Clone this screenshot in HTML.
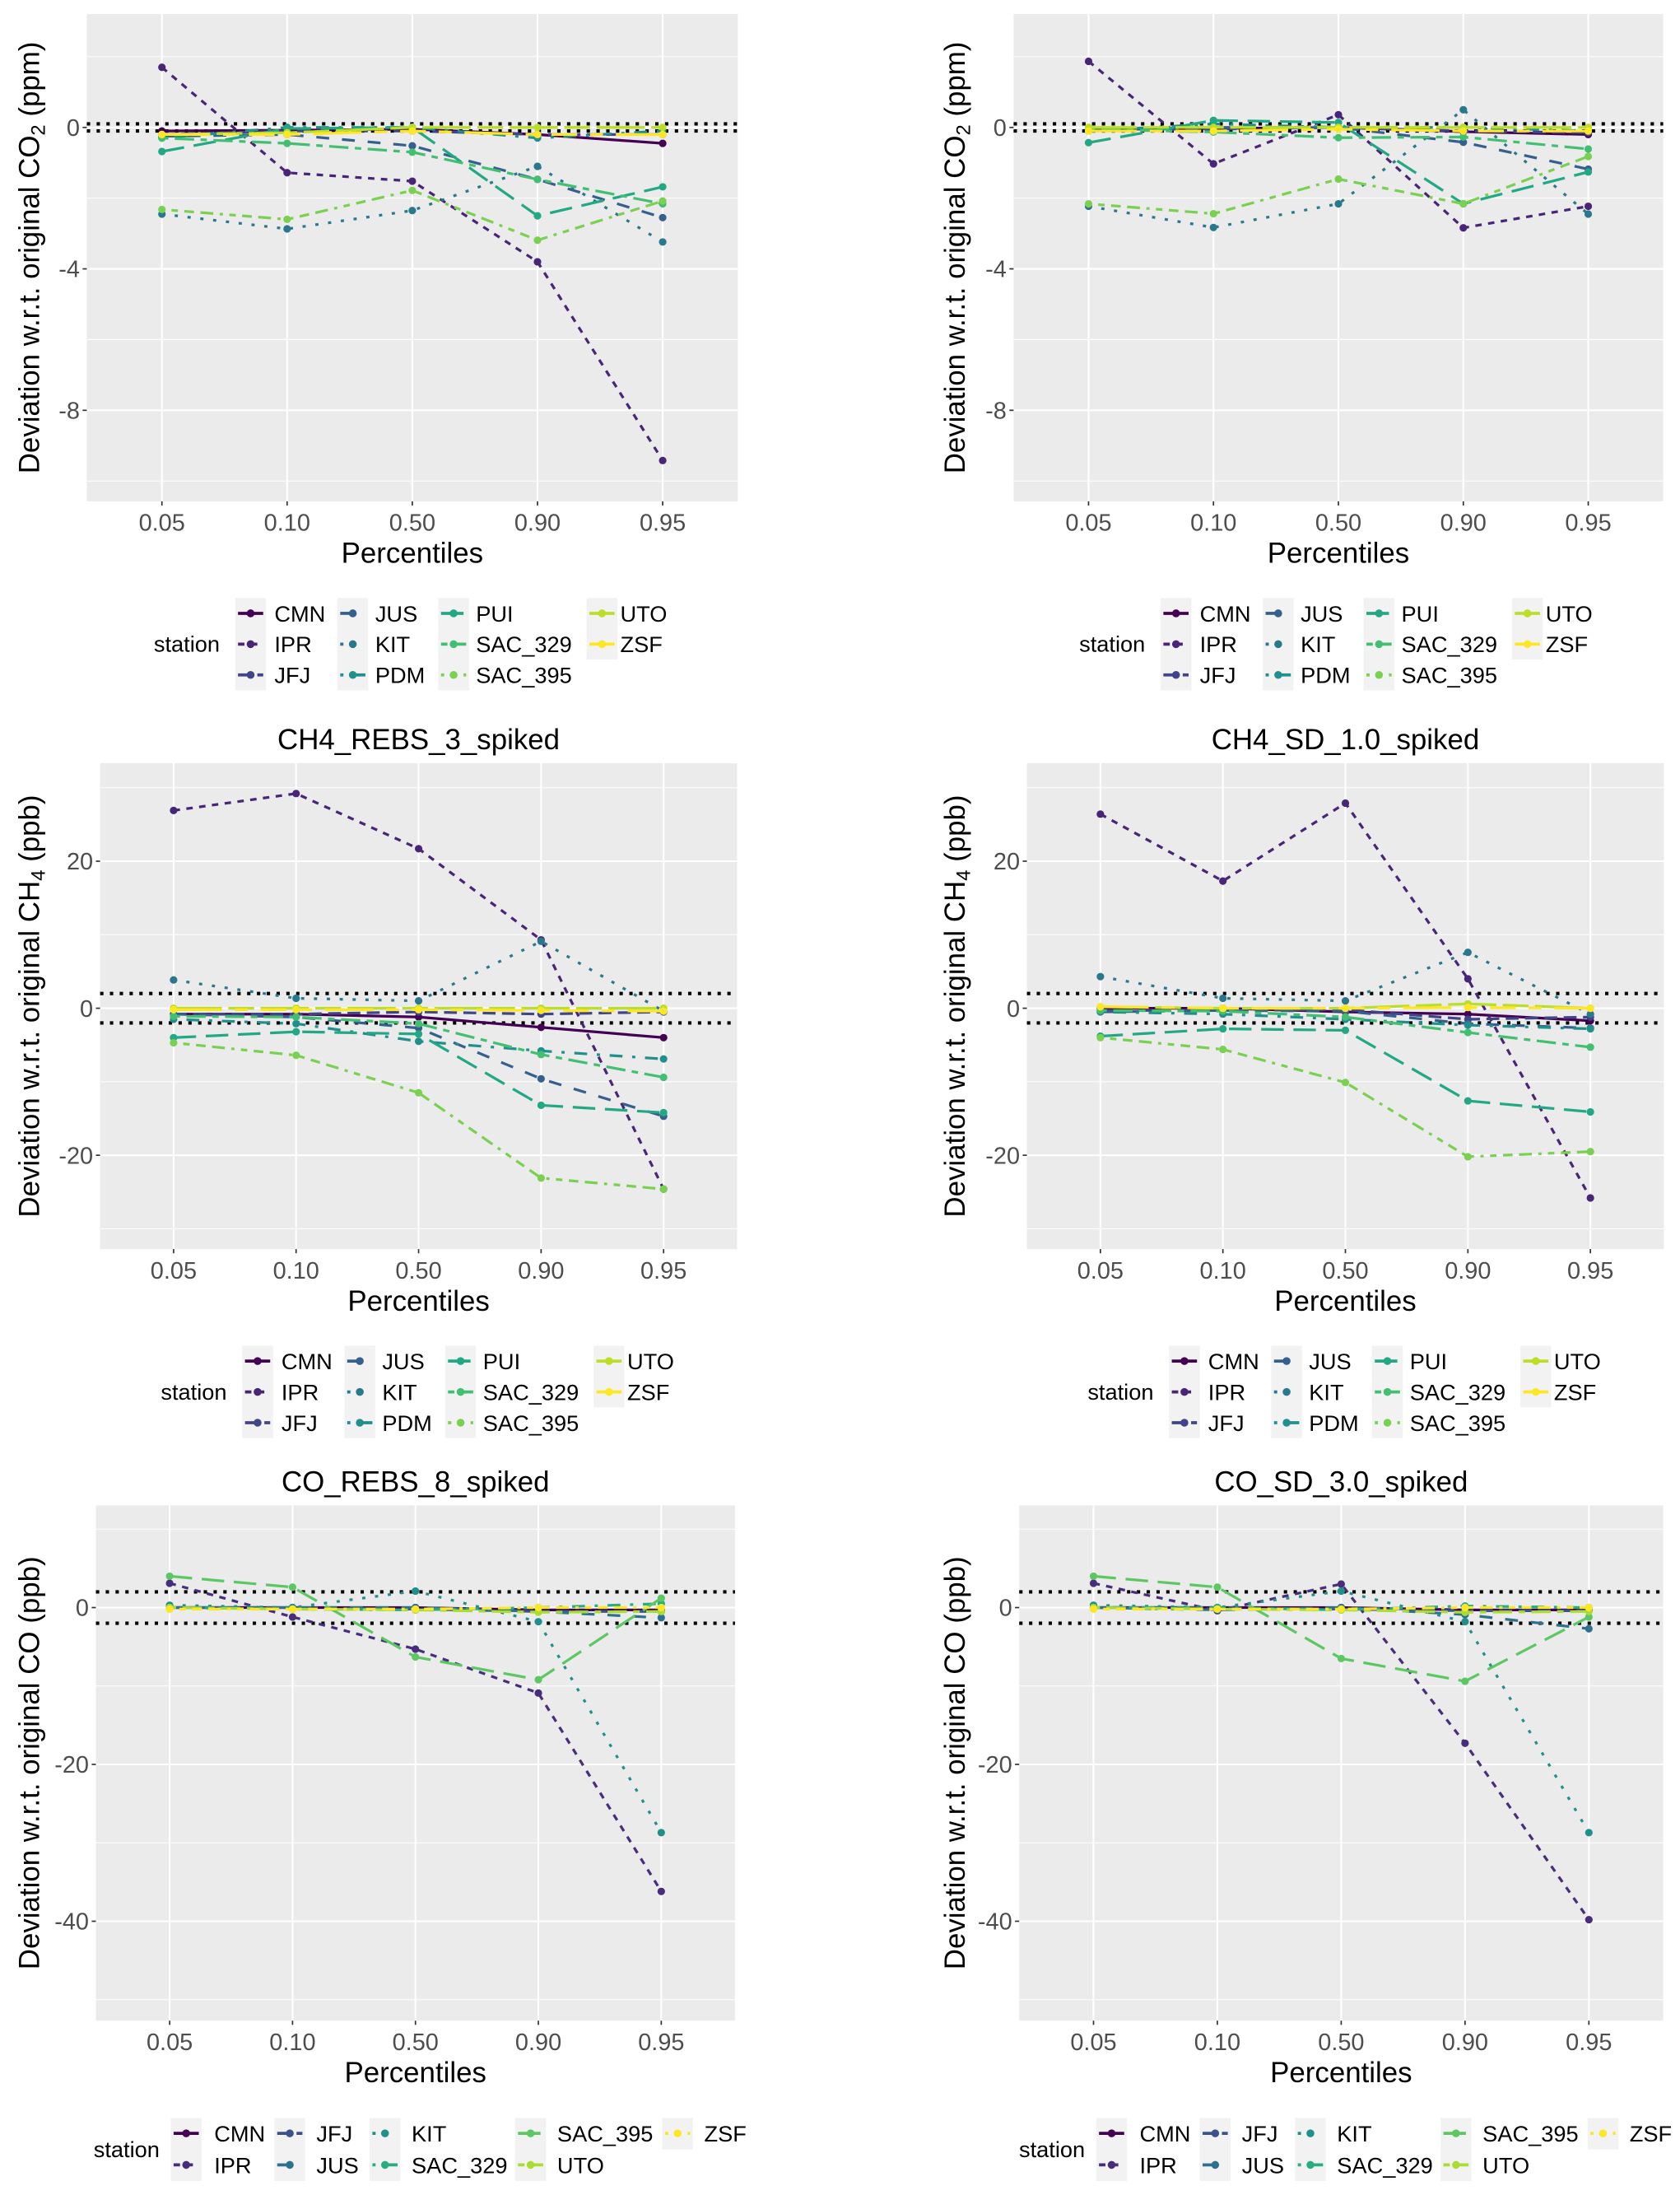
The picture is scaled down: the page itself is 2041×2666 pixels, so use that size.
<!DOCTYPE html>
<html><head><meta charset="utf-8"><style>
html,body{margin:0;padding:0;background:#fff;}
svg{display:block;font-family:"Liberation Sans",Arial,sans-serif;}
</style></head><body>
<svg id="fig" xmlns="http://www.w3.org/2000/svg" width="2041" height="2666" viewBox="0 0 1200 1567.5" preserveAspectRatio="none"></svg>
<script>
// ---- data ----
const categories = ["0.05","0.10","0.50","0.90","0.95"];
const stations11 = ["CMN","IPR","JFJ","JUS","KIT","PDM","PUI","SAC_329","SAC_395","UTO","ZSF"];
const colors11 = ["#440154","#482576","#414487","#35608D","#2A788E","#21908C","#22A884","#43BF71","#7AD151","#BBDF27","#FDE725"];
const stations9 = ["CMN","IPR","JFJ","JUS","KIT","SAC_329","SAC_395","UTO","ZSF"];
const colors9 = ["#440154","#472D7B","#3B528B","#2C728E","#21908C","#27AD81","#5DC863","#AADC32","#FDE725"];
const ltypes = ["", "22","42","44","13","1343","73","2262","12223242","F282","F4448444"];

// CO2 REBS (top-left)
const co2RebsValues = [
  [-0.1,-0.08,-0.05,-0.2,-0.45],
  [1.7,-1.28,-1.52,-3.8,-9.42],
  [-0.2,-0.1,-0.1,-0.2,-0.2],
  [-0.25,-0.2,-0.52,-1.47,-2.55],
  [-2.45,-2.87,-2.35,-1.1,-3.24],
  [-0.3,0,0,-0.3,-0.1],
  [-0.68,-0.03,0,-2.5,-1.68],
  [-0.3,-0.45,-0.7,-1.47,-2.16],
  [-2.32,-2.6,-1.78,-3.19,-2.08],
  [-0.2,-0.15,0,0,0],
  [-0.2,-0.2,-0.1,-0.2,-0.2]
];
// CO2 SD (top-right)
const co2SdValues = [
  [-0.05,-0.03,0,-0.12,-0.2],
  [1.87,-1.03,0.36,-2.84,-2.23],
  [-0.05,-0.05,0,-0.1,-0.15],
  [-0.05,0,0,-0.42,-1.18],
  [-2.23,-2.83,-2.16,0.5,-2.45],
  [-0.1,0.1,0,0,-0.1],
  [-0.43,0.2,0.14,-2.16,-1.26],
  [-0.05,-0.13,-0.29,-0.27,-0.61],
  [-2.16,-2.44,-1.46,-2.16,-0.82],
  [0,0,0,0,0],
  [-0.1,-0.1,-0.05,-0.1,-0.1]
];
// CH4 REBS
const ch4RebsValues = [
  [-0.8,-0.8,-1.2,-2.6,-4.0],
  [26.9,29.2,21.7,9.3,-24.6],
  [-0.8,-0.8,-0.5,-0.8,-0.5],
  [-0.8,-1.2,-2.7,-9.6,-14.7],
  [3.85,1.35,1.0,9.1,-0.4],
  [-1.5,-2.1,-4.5,-5.8,-6.9],
  [-4.0,-3.2,-3.5,-13.2,-14.2],
  [-1.1,-1.2,-2.1,-6.3,-9.4],
  [-4.7,-6.4,-11.5,-23.1,-24.6],
  [0,0,0,0,0],
  [-0.2,-0.2,-0.2,-0.3,-0.4]
];
// CH4 SD
const ch4SdValues = [
  [0,0,-0.5,-0.8,-1.7],
  [26.4,17.3,27.9,4.0,-25.8],
  [-0.3,-0.3,-0.2,-1.5,-1.2],
  [-0.5,-0.3,-0.4,-2.1,-2.7],
  [4.3,1.35,1.0,7.6,-0.8],
  [-0.5,-0.8,-1.5,-2.3,-2.8],
  [-3.8,-2.8,-3.0,-12.6,-14.1],
  [-0.3,-0.4,-1.2,-3.3,-5.3],
  [-4.0,-5.6,-10.1,-20.2,-19.5],
  [0.2,0,0,0.6,0],
  [0.2,0,0,0.1,0]
];
// CO REBS
const coRebsValues = [
  [0,0,0,-0.3,-0.3],
  [3.1,-1.2,-5.3,-10.9,-36.2],
  [0,0,-0.2,-0.5,-0.5],
  [0,0,0,-0.5,-1.3],
  [0.3,0,2.1,-1.8,-28.7],
  [0,-0.2,-0.3,0,0.5],
  [4.0,2.6,-6.3,-9.2,1.2],
  [0,-0.2,-0.3,-0.6,-0.5],
  [-0.2,-0.2,-0.2,0,0]
];
// CO SD
const coSdValues = [
  [0,0,0,-0.3,-0.3],
  [3.1,-0.4,3.0,-17.3,-39.8],
  [0,0,-0.2,-0.4,-0.4],
  [0,-0.3,0,-0.9,-2.7],
  [0.3,0,2.1,-1.8,-28.7],
  [0,0,-0.3,0.2,0],
  [4.0,2.6,-6.5,-9.4,-1.2],
  [0,-0.2,-0.3,-0.6,-0.5],
  [-0.2,-0.2,-0.2,0,0]
];
const co2Ticks = [0,-4,-8];
const co2Minor = [2,-2,-6,-10];
const ch4Ticks = [20,0,-20];
const ch4Minor = [30,10,-10,-30];
const coTicks = [0,-20,-40];
const coMinor = [10,-10,-30,-50];

// ---- drawing ----
const NS="http://www.w3.org/2000/svg";
const svg=document.getElementById('fig');
function mk(tag,attrs,parent,text){
  const e=document.createElementNS(NS,tag);
  for(const k in attrs) e.setAttribute(k,attrs[k]);
  if(text!==undefined) e.textContent=text;
  (parent||svg).appendChild(e);
  return e;
}
const U=2.3;
function dash(lt){
  if(!lt) return "none";
  return lt.split("").map(c=>parseInt(c,16)*U).join(",");
}

function panel(cfg){
  const g=mk('g',{});
  
  
  const L=cfg.left,R=cfg.right,T=cfg.top,B=cfg.bottom;
  const step=(R-L)/5.2;
  const xs=i=>L+(i+0.6)*step;
  const ys=v=>cfg.zeroY - v*cfg.pxPerUnit;
  const bg=mk('rect',{x:L,y:T,width:R-L,height:B-T,fill:'#EBEBEB'},g);
  
  
  cfg.minor.forEach(v=>{const y=ys(v); if(y>T&&y<B){const l=mk('line',{x1:L,x2:R,y1:y,y2:y,stroke:'#fff','stroke-width':0.6},g);
    }});
  cfg.ticks.forEach(v=>{const y=ys(v);const l=mk('line',{x1:L,x2:R,y1:y,y2:y,stroke:'#fff','stroke-width':1.2},g);
    
    const tk=mk('line',{x1:L-3,x2:L,y1:y,y2:y,stroke:'#333','stroke-width':1},g);
    
    const t=mk('text',{x:L-5,y:y+6,'text-anchor':'end','font-size':17,fill:'#4D4D4D'},g,String(v));
    });
  categories.forEach((c,i)=>{const x=xs(i);const l=mk('line',{x1:x,x2:x,y1:T,y2:B,stroke:'#fff','stroke-width':1.2},g);
    
    const tk=mk('line',{x1:x,x2:x,y1:B,y2:B+3,stroke:'#333','stroke-width':1},g);
    
    const t=mk('text',{x:x,y:B+21,'text-anchor':'middle','font-size':17,fill:'#4D4D4D'},g,c);
    });
  // threshold dotted lines
  [cfg.thr,-cfg.thr].forEach(v=>{const y=ys(v);const l=mk('line',{x1:L,x2:R,y1:y,y2:y,stroke:'#000','stroke-width':2.4,'stroke-dasharray':'2.4,4.6'},g);
    });
  // series
  cfg.values.forEach((vals,si)=>{
    const sg=mk('g',{},g);
    
    
    const pts=vals.map((v,i)=>xs(i).toFixed(2)+','+ys(v).toFixed(2)).join(' ');
    const pl=mk('polyline',{points:pts,fill:'none',stroke:cfg.colors[si],'stroke-width':1.9,'stroke-dasharray':dash(ltypes[si])},sg);
    
    
    vals.forEach((v,i)=>{const c=mk('circle',{cx:xs(i),cy:ys(v),r:2.7,fill:cfg.colors[si]},sg);
      
      });
  });
  // titles
  if(cfg.title){const t=mk('text',{x:(L+R)/2,y:T-10,'text-anchor':'middle','font-size':20.5,fill:'#000'},g,cfg.title);
    }
  const xt=mk('text',{x:(L+R)/2,y:B+44,'text-anchor':'middle','font-size':20.5,fill:'#000'},g,'Percentiles');
  
  const cy=(T+B)/2, tx=cfg.ytitleX;
  const yt=mk('text',{x:tx,y:cy,'text-anchor':'middle','font-size':20.5,fill:'#000',transform:`rotate(-90 ${tx} ${cy})`},g);
  
  mk('tspan',{},yt,'Deviation w.r.t. original '+cfg.gas);
  if(cfg.sub) mk('tspan',{'font-size':14,dy:4},yt,cfg.sub);
  mk('tspan',{dy:cfg.sub?-4:0},yt,' ('+cfg.unit+')');
  // legend
  const lg=mk('g',{},g);
  
  
  const st=mk('text',{x:cfg.leg.stationX,y:cfg.leg.stationY+5.5,'text-anchor':'end','font-size':16,fill:'#000'},lg,'station');
  
  const nrow=cfg.leg.rows, ncol=cfg.leg.keyX.length;
  for(let c=0;c<ncol;c++){
    let n=0;
    for(let r=0;r<nrow;r++){ if(c*nrow+r<cfg.stations.length) n++; }
    const kb=mk('rect',{x:cfg.leg.keyX[c]-11,y:cfg.leg.rowY[0]-11,width:22,height:n*cfg.leg.dy,fill:'#F2F2F2'},lg);
    
  }
  cfg.stations.forEach((s,si)=>{
    const c=Math.floor(si/nrow), r=si%nrow;
    const kx=cfg.leg.keyX[c], ky=cfg.leg.rowY[0]+r*cfg.leg.dy;
    const eg=mk('g',{},lg);
    
    
    mk('line',{x1:kx-9,x2:kx+9,y1:ky,y2:ky,stroke:cfg.colors[si],'stroke-width':2.2,'stroke-dasharray':dash(ltypes[si])},eg);
    mk('circle',{cx:kx,cy:ky,r:2.8,fill:cfg.colors[si]},eg);
    mk('text',{x:cfg.leg.textX[c],y:ky+5.8,'font-size':16,fill:'#000'},eg,s);
  });
}

const legTop=(off,rowY0)=>({stationX:157+off,stationY:rowY0+22,rows:3,dy:22,rowY:[rowY0],
  keyX:[179+off,252+off,324+off,430+off],textX:[196+off,268+off,340+off,443+off]});
const legBot=(off)=>({stationX:114+off,stationY:1535,rows:2,dy:22.5,rowY:[1523.5],
  keyX:[133+off,207+off,275+off,379+off,484+off],textX:[153+off,226+off,294+off,398+off,503+off]});

panel({name:'panel-co2-rebs',left:62,right:527,top:10,bottom:358,zeroY:91,pxPerUnit:25.25,ticks:co2Ticks,minor:co2Minor,thr:0.1,
  values:co2RebsValues,stations:stations11,colors:colors11,gas:'CO',sub:'2',unit:'ppm',ytitleX:28,leg:legTop(0,438)});
panel({name:'panel-co2-sd',left:724,right:1188,top:10,bottom:358,zeroY:91,pxPerUnit:25.25,ticks:co2Ticks,minor:co2Minor,thr:0.1,
  values:co2SdValues,stations:stations11,colors:colors11,gas:'CO',sub:'2',unit:'ppm',ytitleX:689,leg:legTop(661,438)});
panel({name:'panel-ch4-rebs',title:'CH4_REBS_3_spiked',left:71.5,right:526.5,top:545,bottom:892,zeroY:720,pxPerUnit:5.25,ticks:ch4Ticks,minor:ch4Minor,thr:2,
  values:ch4RebsValues,stations:stations11,colors:colors11,gas:'CH',sub:'4',unit:'ppb',ytitleX:28,leg:legTop(5,972)});
panel({name:'panel-ch4-sd',title:'CH4_SD_1.0_spiked',left:733.5,right:1188.5,top:545,bottom:892,zeroY:720,pxPerUnit:5.25,ticks:ch4Ticks,minor:ch4Minor,thr:2,
  values:ch4SdValues,stations:stations11,colors:colors11,gas:'CH',sub:'4',unit:'ppb',ytitleX:689,leg:legTop(667,972)});
panel({name:'panel-co-rebs',title:'CO_REBS_8_spiked',left:68.5,right:525,top:1075,bottom:1443,zeroY:1148,pxPerUnit:5.6,ticks:coTicks,minor:coMinor,thr:2,
  values:coRebsValues,stations:stations9,colors:colors9,gas:'CO',sub:'',unit:'ppb',ytitleX:28,leg:legBot(0)});
panel({name:'panel-co-sd',title:'CO_SD_3.0_spiked',left:728,right:1188,top:1075,bottom:1443,zeroY:1148,pxPerUnit:5.6,ticks:coTicks,minor:coMinor,thr:2,
  values:coSdValues,stations:stations9,colors:colors9,gas:'CO',sub:'',unit:'ppb',ytitleX:689,leg:legBot(661)});
</script>
</body></html>
